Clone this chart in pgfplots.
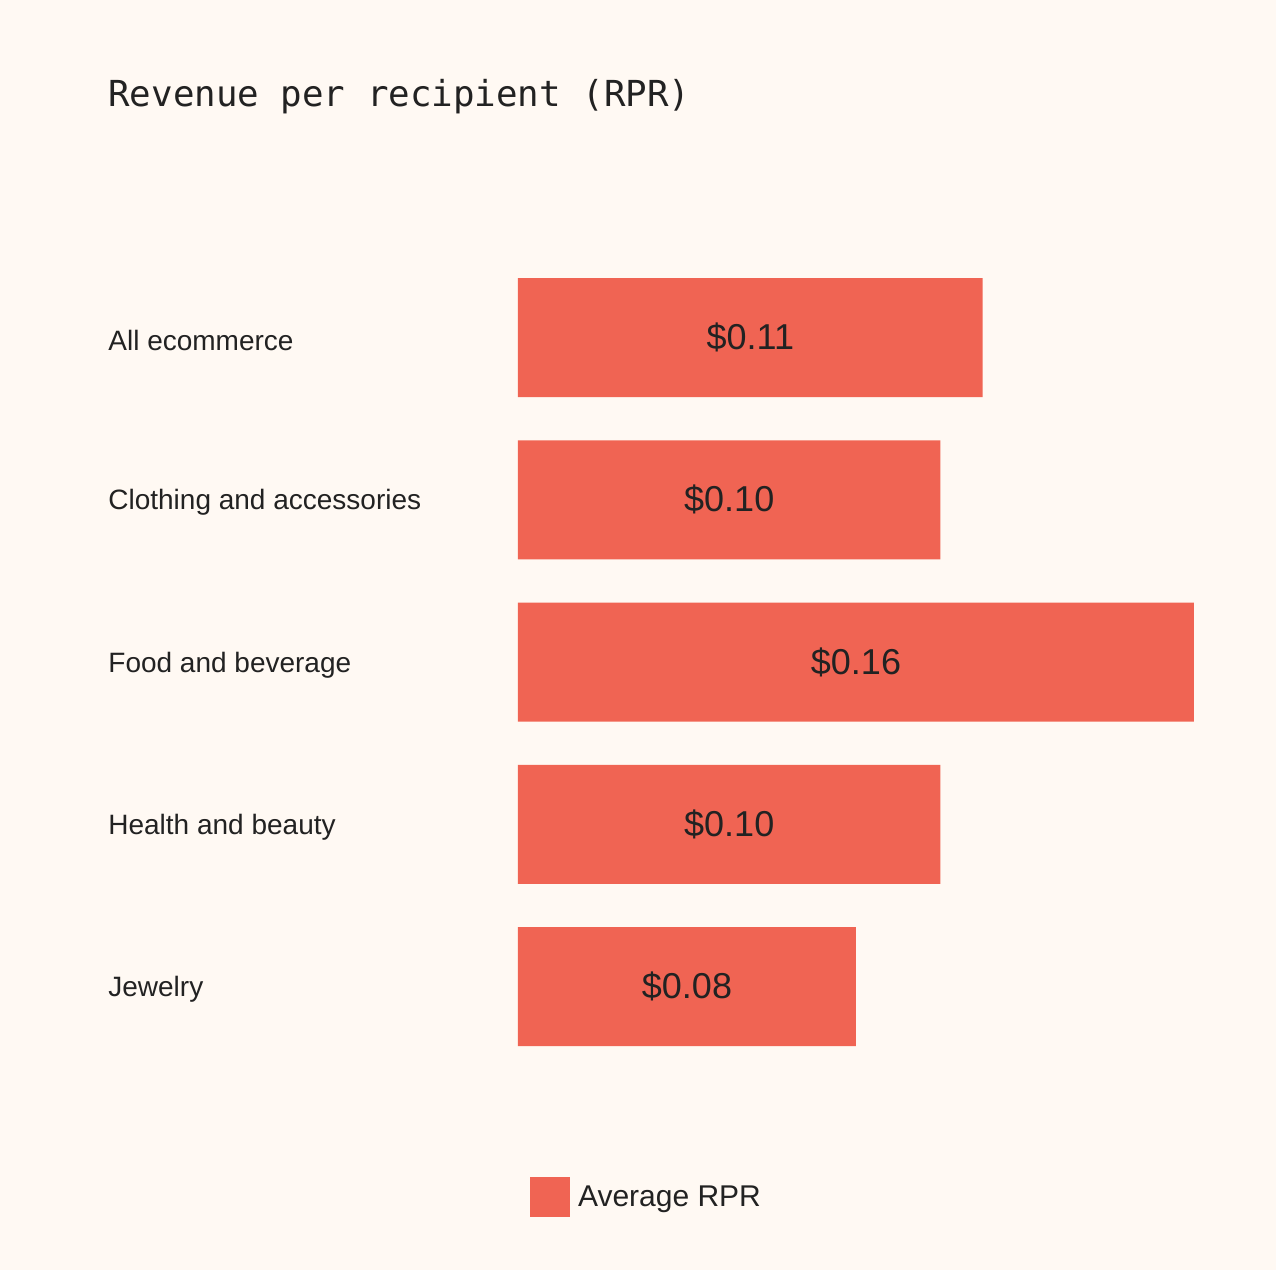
\documentclass[border=0pt]{standalone}
\usepackage{pgfplots}
\pgfplotsset{compat=1.18}
\usepackage{pgfplotstable}
\usepackage{fontspec}
\setmainfont{Liberation Sans}
\newfontfamily\monofont{DejaVu Sans Mono}
\definecolor{bg}{HTML}{FFF9F3}
\definecolor{barcol}{HTML}{F06453}
\definecolor{txt}{HTML}{222222}
\pgfplotstableread{
y v
0 0.11
1 0.10
2 0.16
3 0.10
4 0.08
}\data
\begin{document}
\begin{tikzpicture}
\fill[bg] (0,0) rectangle (638pt,635pt);
\node[anchor=base west, inner sep=0pt, font=\monofont\fontsize{17.9}{20}\selectfont, text=txt] at (54pt,581.5pt) {Revenue per recipient (RPR)};
\begin{axis}[
  at={(259pt,112pt)}, anchor=south west, scale only axis,
  width=338pt, height=384pt,
  xmin=0, xmax=0.16, ymin=-0.3667, ymax=4.3667, y dir=reverse,
  axis line style={draw=none}, xtick=\empty,
  ytick={0,1,2,3,4},
  yticklabels={All ecommerce, Clothing and accessories, Food and beverage, Health and beauty, Jewelry},
  major tick length=0pt,
  yticklabel style={anchor=west, xshift=-205pt, yshift=-1.5pt, inner sep=0pt, font=\fontsize{14}{16}\selectfont, text=txt},
  /pgf/number format/assume math mode=true,
  legend style={at={(0.1945,-0.197)}, anchor=center, draw=none, fill=none, font=\fontsize{15}{18}\selectfont, text=txt},
  legend image code/.code={\fill[barcol] (0pt,-10pt) rectangle (20pt,10pt);},
  legend cell align=left,
  legend style={/tikz/every even column/.append style={column sep=0pt}, nodes={inner xsep=4pt}},
]
\addplot[xbar, fill=barcol, draw=none, bar width=59.5pt] table[x=v, y=y] {\data};
\addlegendentry{Average RPR}
\addplot[draw=none, mark=none, forget plot, point meta=explicit,
  nodes near coords={\$\pgfmathprintnumber[fixed,fixed zerofill,precision=2]{\pgfplotspointmeta}},
  every node near coord/.append style={anchor=center, font=\fontsize{18}{20}\selectfont, text=txt}]
  table[x expr=\thisrow{v}/2, y=y, meta=v] {\data};
\end{axis}
\end{tikzpicture}
\end{document}
